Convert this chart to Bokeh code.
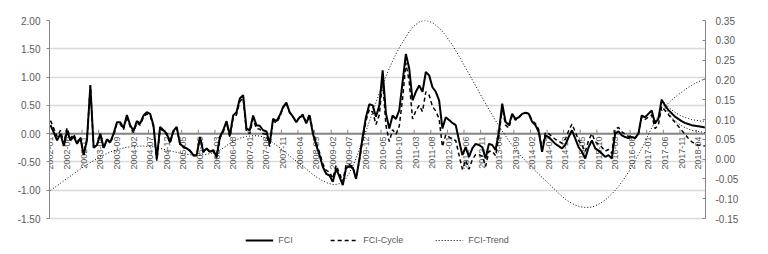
import math
from bokeh.plotting import figure
from bokeh.models import (Range1d, LinearAxis, FixedTicker, NumeralTickFormatter,
                          Legend, LegendItem, Span)
from bokeh.core.properties import value
from bokeh.embed import file_html
from bokeh.resources import INLINE

# ---------------- data (monthly, 2002-01 .. 2018-06) ----------------
x_labels = ["2002-01", "2002-06", "2002-11", "2003-04", "2003-09", "2004-02", "2004-07",
            "2004-12", "2005-05", "2005-10", "2006-03", "2006-08", "2007-01", "2007-06",
            "2007-11", "2008-04", "2008-09", "2009-02", "2009-07", "2009-12", "2010-05",
            "2010-10", "2011-03", "2011-08", "2012-01", "2012-06", "2012-11", "2013-04",
            "2013-09", "2014-02", "2014-07", "2014-12", "2015-05", "2015-10", "2016-03",
            "2016-08", "2017-01", "2017-06", "2017-11", "2018-04"]
label_step = 5  # one label every 5 months

fci = [0.15, 0.02, -0.12, 0.0, -0.22, 0.05, -0.12, -0.05, -0.18, -0.08,
       -0.38, -0.1, 0.85, -0.25, -0.2, 0.0, -0.25, -0.1, -0.15, 0.0,
       0.2, 0.2, 0.1, 0.33, 0.15, 0.05, 0.22, 0.18, 0.32, 0.38,
       0.35, 0.15, -0.45, 0.12, 0.06, 0.0, -0.15, 0.05, 0.12, -0.18,
       -0.23, -0.26, -0.3, -0.38, -0.38, -0.06, -0.32, -0.26, -0.32, -0.29,
       -0.41, -0.06, 0.06, 0.22, -0.03, 0.32, 0.38, 0.62, 0.68, 0.09,
       0.06, 0.32, 0.15, 0.14, 0.06, 0.04, -0.18, 0.26, 0.22, 0.32,
       0.47, 0.55, 0.38, 0.3, 0.2, 0.29, 0.32, 0.18, 0.32, 0.0,
       -0.2, -0.38, -0.59, -0.71, -0.74, -0.85, -0.62, -0.76, -0.91, -0.6,
       -0.58, -0.6, -0.8, -0.45, -0.05, 0.3, 0.52, 0.5, 0.3, 0.5,
       1.12, 0.35, 0.09, 0.32, 0.26, 0.41, 0.91, 1.41, 1.15, 0.59,
       0.74, 0.85, 0.74, 1.09, 1.03, 0.82, 0.74, 0.59, 0.09, 0.29,
       0.24, 0.19, 0.15, -0.12, -0.38, -0.24, -0.41, -0.26, -0.18, -0.2,
       -0.24, -0.44, -0.18, -0.2, -0.29, 0.03, 0.53, 0.21, 0.15, 0.35,
       0.26, 0.29, 0.35, 0.37, 0.35, 0.21, 0.15, 0.03, -0.32, -0.03,
       -0.06, -0.12, -0.18, -0.22, -0.26, -0.2, -0.06, 0.06, -0.09, -0.24,
       -0.32, -0.44, -0.24, -0.12, -0.26, -0.3, -0.35, -0.41, -0.38, -0.44,
       0.0, 0.04, -0.03, -0.06, -0.08, -0.06, -0.08, 0.0, 0.32, 0.29,
       0.35, 0.41, 0.18, 0.26, 0.6, 0.5, 0.42, 0.36, 0.3, 0.26,
       0.22, 0.19, 0.17, 0.15, 0.14, 0.13, 0.12, 0.11]

fci_cycle = [0.23, 0.09, -0.05, 0.06, -0.17, 0.10, -0.08, -0.01, -0.15, -0.06,
             -0.36, -0.09, 0.86, -0.25, -0.20, -0.01, -0.26, -0.11, -0.17, -0.02,
             0.18, 0.17, 0.07, 0.30, 0.12, 0.02, 0.19, 0.15, 0.29, 0.35,
             0.32, 0.12, -0.48, 0.09, 0.04, -0.02, -0.17, 0.03, 0.10, -0.20,
             -0.24, -0.27, -0.31, -0.39, -0.39, -0.07, -0.33, -0.27, -0.33, -0.31,
             -0.43, -0.08, 0.03, 0.19, -0.07, 0.28, 0.33, 0.57, 0.63, 0.03,
             0.00, 0.26, 0.09, 0.08, 0.00, -0.01, -0.23, 0.22, 0.19, 0.29,
             0.45, 0.54, 0.37, 0.30, 0.21, 0.30, 0.34, 0.21, 0.35, 0.04,
             -0.16, -0.33, -0.54, -0.65, -0.68, -0.79, -0.56, -0.70, -0.85, -0.55,
             -0.55, -0.58, -0.80, -0.47, -0.10, 0.23, 0.43, 0.38, 0.16, 0.33,
             0.95, 0.14, -0.14, 0.07, -0.01, 0.13, 0.62, 1.25, 0.92, 0.26,
             0.40, 0.50, 0.39, 0.74, 0.68, 0.48, 0.40, 0.26, -0.23, -0.02,
             -0.06, -0.10, -0.12, -0.38, -0.63, -0.47, -0.63, -0.46, -0.37, -0.37,
             -0.40, -0.58, -0.31, -0.31, -0.39, -0.05, 0.46, 0.15, 0.10, 0.32,
             0.24, 0.28, 0.35, 0.37, 0.36, 0.23, 0.18, 0.07, -0.27, 0.02,
             0.00, -0.05, -0.10, -0.13, -0.17, -0.10, 0.05, 0.17, 0.03, -0.12,
             -0.20, -0.32, -0.12, 0.00, -0.14, -0.19, -0.24, -0.31, -0.28, -0.35,
             0.08, 0.11, 0.03, -0.01, -0.05, -0.04, -0.08, -0.01, 0.29, 0.25,
             0.29, 0.33, 0.09, 0.15, 0.48, 0.41, 0.34, 0.27, 0.20, 0.13,
             0.06, -0.01, -0.08, -0.14, -0.18, -0.20, -0.21, -0.22]

fci_trend = [-0.079, -0.073, -0.067, -0.061, -0.055, -0.049, -0.043, -0.037, -0.031, -0.025,
             -0.019, -0.014, -0.009, -0.004, 0.001, 0.006, 0.010, 0.014, 0.018, 0.021,
             0.024, 0.026, 0.028, 0.030, 0.031, 0.032, 0.032, 0.033, 0.033, 0.032,
             0.032, 0.031, 0.029, 0.027, 0.025, 0.023, 0.021, 0.019, 0.017, 0.015,
             0.013, 0.012, 0.011, 0.010, 0.010, 0.010, 0.011, 0.012, 0.014, 0.016,
             0.019, 0.023, 0.028, 0.034, 0.040, 0.045, 0.049, 0.053, 0.055, 0.057,
             0.058, 0.059, 0.059, 0.058, 0.056, 0.052, 0.047, 0.041, 0.035, 0.029,
             0.022, 0.015, 0.008, 0.001, -0.005, -0.011, -0.018, -0.025, -0.032, -0.039,
             -0.045, -0.050, -0.055, -0.059, -0.062, -0.064, -0.064, -0.062, -0.057, -0.048,
             -0.035, -0.018, 0.002, 0.024, 0.047, 0.071, 0.095, 0.119, 0.143, 0.166,
             0.188, 0.209, 0.229, 0.248, 0.265, 0.281, 0.295, 0.308, 0.322, 0.332,
             0.340, 0.346, 0.349, 0.350, 0.348, 0.344, 0.338, 0.331, 0.322, 0.312,
             0.300, 0.288, 0.274, 0.260, 0.245, 0.230, 0.215, 0.200, 0.185, 0.170,
             0.155, 0.140, 0.125, 0.111, 0.097, 0.084, 0.071, 0.059, 0.046, 0.035,
             0.024, 0.014, 0.005, -0.004, -0.013, -0.022, -0.030, -0.038, -0.046, -0.054,
             -0.062, -0.070, -0.078, -0.086, -0.094, -0.101, -0.107, -0.112, -0.116, -0.119,
             -0.121, -0.122, -0.122, -0.121, -0.118, -0.114, -0.109, -0.103, -0.096, -0.088,
             -0.079, -0.069, -0.058, -0.046, -0.033, -0.019, -0.004, 0.011, 0.027, 0.043,
             0.062, 0.079, 0.095, 0.109, 0.121, 0.132, 0.141, 0.149, 0.156, 0.163,
             0.169, 0.175, 0.181, 0.186, 0.191, 0.195, 0.199, 0.203]

# forecast band curves drawn after the 2017-05 peak (no legend entry)
nan = float("nan")
band_upper = [nan] * 184 + [0.60, 0.53, 0.47, 0.42, 0.38, 0.34, 0.31, 0.29, 0.27, 0.25,
                            0.24, 0.23, 0.22, 0.22]
band_lower = [nan] * 184 + [0.60, 0.47, 0.37, 0.29, 0.23, 0.18, 0.14, 0.11, 0.08, 0.06,
                            0.05, 0.04, 0.03, 0.02]

left_ticks = [-1.5, -1.0, -0.5, 0.0, 0.5, 1.0, 1.5, 2.0]
right_ticks = [-0.15, -0.10, -0.05, 0.0, 0.05, 0.10, 0.15, 0.20, 0.25, 0.30, 0.35]

# ---------------- layout (pixels) ----------------
W, H = 766, 252
TOP, LEFT, RIGHT = 20, 49, 61
AXIS_H = 198            # height of the value-axis span (-1.5 .. 2.0)
LEGEND_ZONE = H - TOP - AXIS_H   # room kept under the axes for the legend

def extend_low(lo, hi):
    """lower range bound so that [lo, hi] fills AXIS_H px and legend zone sits below"""
    return lo - (hi - lo) * LEGEND_ZONE / AXIS_H

months = list(range(len(fci)))
label_pos = [i * label_step for i in range(len(x_labels))]
minor_pos = [p_ + label_step - 0.5 for p_ in label_pos[:-1]]

TXT = "#595959"
AX = "#868686"
FONT = "Liberation Sans"

p = figure(width=W, height=H, output_backend="svg", toolbar_location=None,
           x_axis_type=None, x_range=Range1d(-0.3, len(fci) - 0.8),
           y_range=Range1d(extend_low(left_ticks[0], left_ticks[-1]), left_ticks[-1]),
           min_border_left=LEFT, min_border_right=RIGHT, min_border_top=TOP,
           min_border_bottom=0)
p.outline_line_color = None
p.background_fill_color = "white"
p.border_fill_color = "white"

p.extra_y_ranges = {"right": Range1d(extend_low(right_ticks[0], right_ticks[-1]),
                                     right_ticks[-1])}

# left axis
ya = p.yaxis[0]
ya.bounds = (left_ticks[0], left_ticks[-1])
ya.ticker = FixedTicker(ticks=left_ticks)
ya.formatter = NumeralTickFormatter(format="0.00")
ya.axis_line_color = AX
ya.major_tick_line_color = AX
ya.major_tick_out = 3
ya.major_tick_in = 0
ya.minor_tick_line_color = None
ya.major_label_standoff = 6
ya.major_label_text_font = FONT
ya.major_label_text_font_size = "10px"
ya.major_label_text_color = TXT

p.ygrid.ticker = FixedTicker(ticks=left_ticks)
p.ygrid.grid_line_color = "#d9d9d9"
p.ygrid.grid_line_width = 1.5

# right axis
ra = LinearAxis(y_range_name="right", ticker=FixedTicker(ticks=right_ticks),
                formatter=NumeralTickFormatter(format="0.00"),
                bounds=(right_ticks[0], right_ticks[-1]))
ra.axis_line_color = AX
ra.major_tick_line_color = AX
ra.major_tick_in = 3
ra.major_tick_out = 0
ra.minor_tick_line_color = None
ra.major_label_standoff = 10
ra.major_label_text_font = FONT
ra.major_label_text_font_size = "10px"
ra.major_label_text_color = TXT
p.add_layout(ra, "right")

# category (date) axis drawn on the zero line
zero_line = Span(location=0, dimension="width", line_color=AX, line_width=2,
                 level="underlay")
p.add_layout(zero_line)
p.segment(x0=minor_pos, y0=[0] * len(minor_pos), x1=minor_pos,
          y1=[0.07] * len(minor_pos), line_color=AX, line_width=1)
p.text(x=label_pos, y=[-0.05] * len(label_pos), text=x_labels, angle=math.pi / 2,
       text_align="right", text_baseline="middle", text_font=value(FONT),
       text_font_size="9px", text_color=TXT)

# series
r_fci = p.line(months, fci, line_color="black", line_width=2)
r_cyc = p.line(months, fci_cycle, line_color="black", line_width=1.5, line_dash="4 3")
r_tr = p.line(months, fci_trend, y_range_name="right", line_color="black",
              line_width=1, line_dash="1 2")
p.line(months, band_upper, line_color="black", line_width=1, line_dash="1 2")
p.line(months, band_lower, line_color="black", line_width=1, line_dash="1 2")

# legend in the zone under the axes
legend = Legend(items=[LegendItem(label="FCI", renderers=[r_fci]),
                       LegendItem(label="FCI-Cycle", renderers=[r_cyc]),
                       LegendItem(label="FCI-Trend", renderers=[r_tr])],
                location="bottom_center", orientation="horizontal", padding=0, margin=5,
                spacing=32, border_line_color=None, background_fill_alpha=0,
                glyph_width=28, glyph_height=14, label_height=14, label_standoff=5,
                label_text_font=FONT, label_text_font_size="9px", label_text_color=TXT)
p.add_layout(legend, "center")

open("out.html", "w").write(file_html(p, INLINE))
